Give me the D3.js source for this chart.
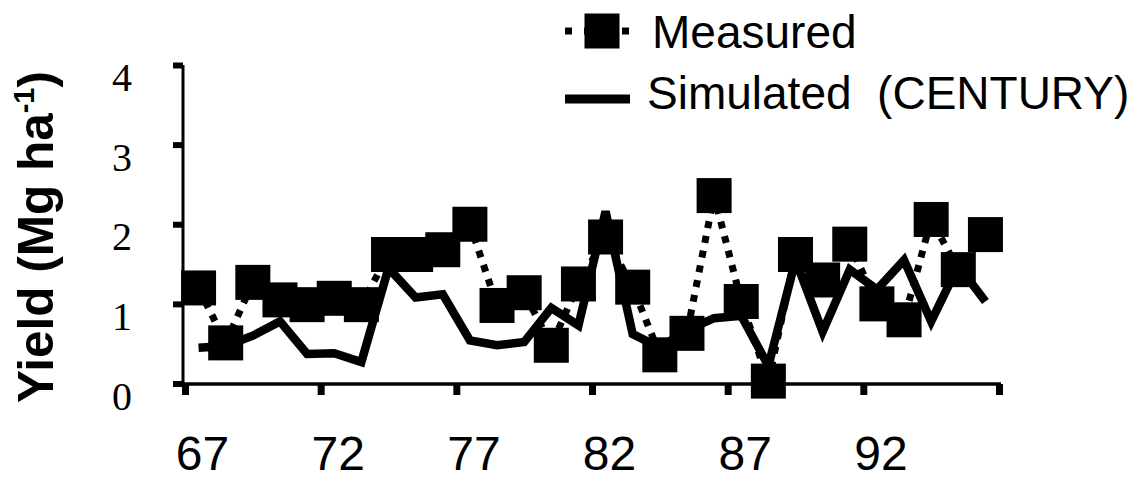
<!DOCTYPE html>
<html>
<head>
<meta charset="utf-8">
<script src="https://cdn.jsdelivr.net/npm/d3@7/dist/d3.min.js"></script>
<style>
  html, body { margin: 0; padding: 0; background: #fff; }
  svg { display: block; }
</style>
</head>
<body>
<svg id="chart" width="1143" height="481"></svg>
<script>
// Annual yield, 1967-1996: field measurements vs. CENTURY model output
const years = [67, 68, 69, 70, 71, 72, 73, 74, 75, 76, 77, 78, 79, 80, 81,
               82, 83, 84, 85, 86, 87, 88, 89, 90, 91, 92, 93, 94, 95, 96];
const measured = [1.20, 0.51, 1.27, 1.05, 0.99, 1.07, 0.99, 1.62, 1.62, 1.68,
                  2.00, 0.98, 1.14, 0.48, 1.25, 1.84, 1.21, 0.36, 0.63, 2.36,
                  1.03, 0.03, 1.62, 1.30, 1.75, 1.00, 0.80, 2.06, 1.43, 1.87];
const simulated = [0.45, 0.47, 0.60, 0.78, 0.37, 0.38, 0.27, 1.45, 1.08, 1.12,
                   0.54, 0.48, 0.52, 0.95, 0.73, 2.16, 0.62, 0.45, 0.67, 0.82,
                   0.85, 0.22, 1.55, 0.65, 1.43, 1.18, 1.55, 0.78, 1.48, 1.03];
const xTickYears = [67, 72, 77, 82, 87, 92];
const yTicks = [0, 1, 2, 3, 4];
const seriesNames = ["Measured", "Simulated  (CENTURY)"];

const svg = d3.select("#chart");

// Category band per year; tick marks sit on band boundaries
const x = d3.scaleBand().domain(years).range([185, 999]);
const xEdge = d3.scaleLinear().domain([67, 97]).range([185, 999]);
const y = d3.scaleLinear().domain([0, 4]).range([383.5, 65]);
const cx = yr => x(yr) + x.bandwidth() / 2;

// ---- axes ----
const axisG = svg.append("g");

const yAxis = d3.axisLeft(y).tickValues(yTicks).tickSize(10).tickFormat("");
const gy = axisG.append("g").attr("transform", "translate(183,0)").call(yAxis);
gy.select(".domain").attr("d", `M0,${y(4)}V${y(0) + 1}`).attr("stroke", "#000").attr("stroke-width", 3);
gy.selectAll(".tick line").attr("stroke", "#000").attr("stroke-width", 6);

const xAxis = d3.axisBottom(xEdge).tickValues(xTickYears.concat([97])).tickSize(11).tickFormat("");
const gx = axisG.append("g").attr("transform", "translate(0,384)").call(xAxis);
gx.select(".domain").attr("d", `M181,0H1001`).attr("stroke", "#000").attr("stroke-width", 3.5);
gx.selectAll(".tick line").attr("stroke", "#000").attr("stroke-width", 7);

// y tick labels (serif)
axisG.selectAll("text.ylab").data(yTicks).join("text")
  .attr("class", "ylab")
  .attr("x", 122).attr("y", d => y(d) + 26)
  .attr("text-anchor", "middle")
  .attr("font-family", "'Liberation Serif', 'Times New Roman', serif")
  .attr("font-size", 40).attr("fill", "#000")
  .text(d => d);

// x tick labels
axisG.selectAll("text.xlab").data(xTickYears).join("text")
  .attr("class", "xlab")
  .attr("x", d => cx(d) + 4).attr("y", 470)
  .attr("text-anchor", "middle")
  .attr("font-family", "'Liberation Sans', Arial, sans-serif")
  .attr("font-size", 48).attr("fill", "#000")
  .text(d => d);

// y axis title
const yTitle = svg.append("text")
  .attr("transform", "translate(53,237) rotate(-90)")
  .attr("text-anchor", "middle")
  .attr("font-family", "'Liberation Sans', Arial, sans-serif")
  .attr("font-weight", "bold").attr("font-size", 49.5).attr("fill", "#000");
yTitle.append("tspan").text("Yield (Mg ha");
yTitle.append("tspan").attr("font-size", 29).attr("dy", -19).text("-1");
yTitle.append("tspan").attr("dy", 19).text(")");

// ---- series ----
const simLine = d3.line().x((d, i) => cx(years[i])).y(d => y(d));
svg.append("path")
  .datum(simulated)
  .attr("d", simLine)
  .attr("fill", "none").attr("stroke", "#000")
  .attr("stroke-width", 8.5).attr("stroke-linejoin", "miter");

const measLine = d3.line().x((d, i) => cx(years[i])).y(d => y(d));
svg.append("path")
  .datum(measured)
  .attr("d", measLine)
  .attr("fill", "none").attr("stroke", "#000")
  .attr("stroke-width", 7).attr("stroke-dasharray", "7,8");

const sq = 35;
svg.append("g").selectAll("rect").data(measured).join("rect")
  .attr("x", (d, i) => cx(years[i]) - sq / 2)
  .attr("y", d => y(d) - sq / 2)
  .attr("width", sq).attr("height", sq)
  .attr("fill", "#000");

// ---- legend ----
const lg = svg.append("g");
lg.append("line").attr("x1", 565).attr("x2", 634).attr("y1", 31).attr("y2", 31)
  .attr("stroke", "#000").attr("stroke-width", 7).attr("stroke-dasharray", "7,12");
lg.append("rect").attr("x", 602 - sq / 2).attr("y", 31 - sq / 2)
  .attr("width", sq).attr("height", sq).attr("fill", "#000");
lg.append("text").attr("x", 652).attr("y", 48)
  .attr("font-family", "'Liberation Sans', Arial, sans-serif")
  .attr("font-size", 46).attr("fill", "#000").text(seriesNames[0]);

lg.append("line").attr("x1", 565).attr("x2", 630).attr("y1", 99).attr("y2", 99)
  .attr("stroke", "#000").attr("stroke-width", 9);
lg.append("text").attr("x", 647).attr("y", 109)
  .attr("font-family", "'Liberation Sans', Arial, sans-serif")
  .attr("font-size", 46).attr("fill", "#000")
  .attr("xml:space", "preserve")
  .text(seriesNames[1]);
</script>
</body>
</html>
